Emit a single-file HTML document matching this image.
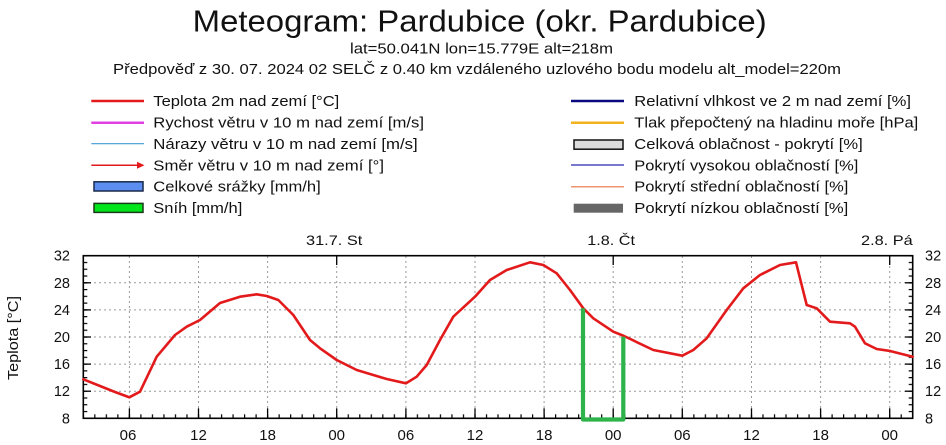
<!DOCTYPE html>
<html><head><meta charset="utf-8"><style>
html,body{margin:0;padding:0;background:#fff;}
svg{display:block;font-family:"Liberation Sans",sans-serif;}
</style></head><body>
<svg width="946" height="445" viewBox="0 0 946 445" xmlns="http://www.w3.org/2000/svg">
<defs>
<pattern id="bt" patternUnits="userSpaceOnUse" x="82.7" y="414.3" width="11.52" height="4"><rect x="0" y="0" width="1.2" height="4" fill="#000"/></pattern>
<pattern id="lt" patternUnits="userSpaceOnUse" x="83.3" y="255.1" width="4" height="6.775"><rect x="0" y="0" width="4" height="1.2" fill="#000"/></pattern>
<pattern id="rt" patternUnits="userSpaceOnUse" x="908.7" y="255.1" width="4" height="6.775"><rect x="0" y="0" width="4" height="1.2" fill="#000"/></pattern>
</defs>
<rect width="946" height="445" fill="#fff"/>
<!-- titles -->
<text x="192.7" y="31.7" font-size="31" textLength="574" lengthAdjust="spacingAndGlyphs" fill="#111">Meteogram: Pardubice (okr. Pardubice)</text>
<text x="350" y="53.3" font-size="14.5" textLength="263" lengthAdjust="spacingAndGlyphs" fill="#111">lat=50.041N lon=15.779E alt=218m</text>
<text x="113" y="74" font-size="14.5" textLength="728" lengthAdjust="spacingAndGlyphs" fill="#111">Předpověď z 30. 07. 2024 02 SELČ z 0.40 km vzdáleného uzlového bodu modelu alt_model=220m</text>
<!-- legend left -->
<g font-size="14.5" fill="#111">
<line x1="91.3" y1="101" x2="144" y2="101" stroke="#e31a1c" stroke-width="2.5"/>
<text x="153.3" y="106" textLength="186" lengthAdjust="spacingAndGlyphs">Teplota 2m nad zemí [°C]</text>
<line x1="91.3" y1="122.7" x2="144" y2="122.7" stroke="#e040e0" stroke-width="2.5"/>
<text x="153.3" y="127.7" textLength="270.7" lengthAdjust="spacingAndGlyphs">Rychost větru v 10 m nad zemí [m/s]</text>
<line x1="91.3" y1="143.7" x2="144" y2="143.7" stroke="#3d9ad6" stroke-width="1.2"/>
<text x="153.3" y="149" textLength="264.4" lengthAdjust="spacingAndGlyphs">Nárazy větru v 10 m nad zemí [m/s]</text>
<line x1="91.3" y1="165.3" x2="139" y2="165.3" stroke="#e31a1c" stroke-width="1.5"/>
<polygon points="144.5,165.3 137,161.8 137,168.8" fill="#e31a1c"/>
<text x="153.3" y="170.3" textLength="230.7" lengthAdjust="spacingAndGlyphs">Směr větru v 10 m nad zemí [°]</text>
<rect x="94" y="181.8" width="49" height="9.2" fill="#5b8ef0" stroke="#1a2a4a" stroke-width="1.5"/>
<text x="153.3" y="191.3" textLength="167.4" lengthAdjust="spacingAndGlyphs">Celkové srážky [mm/h]</text>
<rect x="94" y="203.4" width="49" height="9" fill="#00e61a" stroke="#1a3a1a" stroke-width="1.5"/>
<text x="153.3" y="213" textLength="89" lengthAdjust="spacingAndGlyphs">Sníh [mm/h]</text>
</g>
<!-- legend right -->
<g font-size="14.5" fill="#111">
<line x1="571" y1="101" x2="624" y2="101" stroke="#0a0a80" stroke-width="2.5"/>
<text x="634.3" y="106" textLength="276.7" lengthAdjust="spacingAndGlyphs">Relativní vlhkost ve 2 m nad zemí [%]</text>
<line x1="571" y1="122.7" x2="624" y2="122.7" stroke="#f2b21c" stroke-width="2.5"/>
<text x="634.3" y="127.7" textLength="284" lengthAdjust="spacingAndGlyphs">Tlak přepočtený na hladinu moře [hPa]</text>
<rect x="574" y="140" width="49" height="9.2" fill="#dcdcdc" stroke="#111" stroke-width="1.5"/>
<text x="634.3" y="149" textLength="228.4" lengthAdjust="spacingAndGlyphs">Celková oblačnost - pokrytí [%]</text>
<line x1="571" y1="165" x2="624" y2="165" stroke="#2828b0" stroke-width="1.3"/>
<text x="634.3" y="170.3" textLength="224" lengthAdjust="spacingAndGlyphs">Pokrytí vysokou oblačností [%]</text>
<line x1="571" y1="186.7" x2="624" y2="186.7" stroke="#ec9670" stroke-width="1.5"/>
<text x="634.3" y="191.3" textLength="214" lengthAdjust="spacingAndGlyphs">Pokrytí střední oblačností [%]</text>
<rect x="573.7" y="203.7" width="49.3" height="9" fill="#666"/>
<text x="634.3" y="213" textLength="214" lengthAdjust="spacingAndGlyphs">Pokrytí nízkou oblačností [%]</text>
</g>
<!-- day labels -->
<g font-size="14" fill="#111">
<text x="306" y="245" textLength="56.3" lengthAdjust="spacingAndGlyphs">31.7. St</text>
<text x="587.3" y="245" textLength="47.7" lengthAdjust="spacingAndGlyphs">1.8. Čt</text>
<text x="861" y="245" textLength="51.7" lengthAdjust="spacingAndGlyphs">2.8. Pá</text>
</g>
<!-- grid -->
<g stroke="#9a9a9a" stroke-width="1" stroke-dasharray="2,3">
<line x1="129.4" y1="256" x2="129.4" y2="418"/>
<line x1="198.5" y1="256" x2="198.5" y2="418"/>
<line x1="267.6" y1="256" x2="267.6" y2="418"/>
<line x1="336.7" y1="256" x2="336.7" y2="418"/>
<line x1="405.9" y1="256" x2="405.9" y2="418"/>
<line x1="475.0" y1="256" x2="475.0" y2="418"/>
<line x1="544.1" y1="256" x2="544.1" y2="418"/>
<line x1="613.2" y1="256" x2="613.2" y2="418"/>
<line x1="682.3" y1="256" x2="682.3" y2="418"/>
<line x1="751.5" y1="256" x2="751.5" y2="418"/>
<line x1="820.6" y1="256" x2="820.6" y2="418"/>
<line x1="889.7" y1="256" x2="889.7" y2="418"/>
<line x1="84" y1="282.8" x2="912" y2="282.8"/>
<line x1="84" y1="309.9" x2="912" y2="309.9"/>
<line x1="84" y1="337.0" x2="912" y2="337.0"/>
<line x1="84" y1="364.1" x2="912" y2="364.1"/>
<line x1="84" y1="391.2" x2="912" y2="391.2"/>
</g>
<!-- minor ticks -->
<rect x="83.3" y="414.3" width="829.4" height="4" fill="url(#bt)"/>
<rect x="83.3" y="255.1" width="4" height="163.8" fill="url(#lt)"/>
<rect x="908.7" y="255.1" width="4" height="163.8" fill="url(#rt)"/>
<!-- major ticks -->
<g stroke="#000" stroke-width="1.3">
<line x1="129.4" y1="408.3" x2="129.4" y2="418.3"/>
<line x1="198.5" y1="408.3" x2="198.5" y2="418.3"/>
<line x1="267.6" y1="408.3" x2="267.6" y2="418.3"/>
<line x1="336.7" y1="408.3" x2="336.7" y2="418.3"/>
<line x1="405.9" y1="408.3" x2="405.9" y2="418.3"/>
<line x1="475.0" y1="408.3" x2="475.0" y2="418.3"/>
<line x1="544.1" y1="408.3" x2="544.1" y2="418.3"/>
<line x1="613.2" y1="408.3" x2="613.2" y2="418.3"/>
<line x1="682.3" y1="408.3" x2="682.3" y2="418.3"/>
<line x1="751.5" y1="408.3" x2="751.5" y2="418.3"/>
<line x1="820.6" y1="408.3" x2="820.6" y2="418.3"/>
<line x1="889.7" y1="408.3" x2="889.7" y2="418.3"/>
<line x1="336.7" y1="255.7" x2="336.7" y2="265"/>
<line x1="613.2" y1="255.7" x2="613.2" y2="265"/>
<line x1="889.7" y1="255.7" x2="889.7" y2="265"/>
<line x1="83.3" y1="282.8" x2="91" y2="282.8"/>
<line x1="83.3" y1="309.9" x2="91" y2="309.9"/>
<line x1="83.3" y1="337.0" x2="91" y2="337.0"/>
<line x1="83.3" y1="364.1" x2="91" y2="364.1"/>
<line x1="83.3" y1="391.2" x2="91" y2="391.2"/>
<line x1="905" y1="282.8" x2="912.7" y2="282.8"/>
<line x1="905" y1="309.9" x2="912.7" y2="309.9"/>
<line x1="905" y1="337.0" x2="912.7" y2="337.0"/>
<line x1="905" y1="364.1" x2="912.7" y2="364.1"/>
<line x1="905" y1="391.2" x2="912.7" y2="391.2"/>
</g>
<!-- axis box -->
<rect x="83.3" y="255.7" width="829.4" height="162.6" fill="none" stroke="#000" stroke-width="1.6"/>
<!-- temperature -->
<polyline fill="none" stroke="#e31a1c" stroke-width="2.6" stroke-linejoin="round" stroke-linecap="round" points="83.3,379.3 100,386 115,392 129.3,397.3 140,391.7 156.7,356.7 175,335 186.7,326.7 200,320 220,303 240,296.7 256.7,294.3 266.7,296 278.3,300 293.3,315 300,325 310,340 320,348.3 336.7,360 356.7,370 373.3,375 386.7,379 406,383.3 416.7,376.7 426.7,365 440,340 453.3,316.7 475,296.7 490,280 506.7,270 530,262.3 543.3,265 556.7,273.3 570,290 583.3,308.3 593.3,318.3 613.3,331.7 624,336 653.3,350 682.3,355.7 693.3,350 706.7,338.3 726.7,310 743.3,288.3 760,275 780,265 796,262.3 806.7,305 816.7,308.3 830,321.7 850,323.3 855,326.7 865,343.3 876.7,349 890,351 912.7,356.7"/>
<!-- snow -->
<path d="M583,308.3 L583,419.5 L623.3,419.5 L623.3,336.7" fill="none" stroke="#2db34a" stroke-width="4.2" stroke-linejoin="round"/>
<!-- y labels -->
<g font-size="14.5" fill="#111">
<text x="70" y="260.7" text-anchor="end">32</text>
<text x="70" y="287.8" text-anchor="end">28</text>
<text x="70" y="314.9" text-anchor="end">24</text>
<text x="70" y="342" text-anchor="end">20</text>
<text x="70" y="369.1" text-anchor="end">16</text>
<text x="70" y="396.2" text-anchor="end">12</text>
<text x="70" y="423.3" text-anchor="end">8</text>
<text x="925" y="260.7">32</text>
<text x="925" y="287.8">28</text>
<text x="925" y="314.9">24</text>
<text x="925" y="342">20</text>
<text x="925" y="369.1">16</text>
<text x="925" y="396.2">12</text>
<text x="925" y="423.3">8</text>
</g>
<text transform="translate(18,338) rotate(-90)" font-size="15" text-anchor="middle" textLength="84" lengthAdjust="spacingAndGlyphs" fill="#111">Teplota [°C]</text>
<!-- x labels -->
<g font-size="15" fill="#111" text-anchor="middle">
<text x="128" y="440">06</text>
<text x="198.5" y="440">12</text>
<text x="267.6" y="440">18</text>
<text x="336.7" y="440">00</text>
<text x="405.9" y="440">06</text>
<text x="475.0" y="440">12</text>
<text x="544.1" y="440">18</text>
<text x="613.2" y="440">00</text>
<text x="682.3" y="440">06</text>
<text x="751.5" y="440">12</text>
<text x="820.6" y="440">18</text>
<text x="889.7" y="440">00</text>
</g>
</svg>
</body></html>
